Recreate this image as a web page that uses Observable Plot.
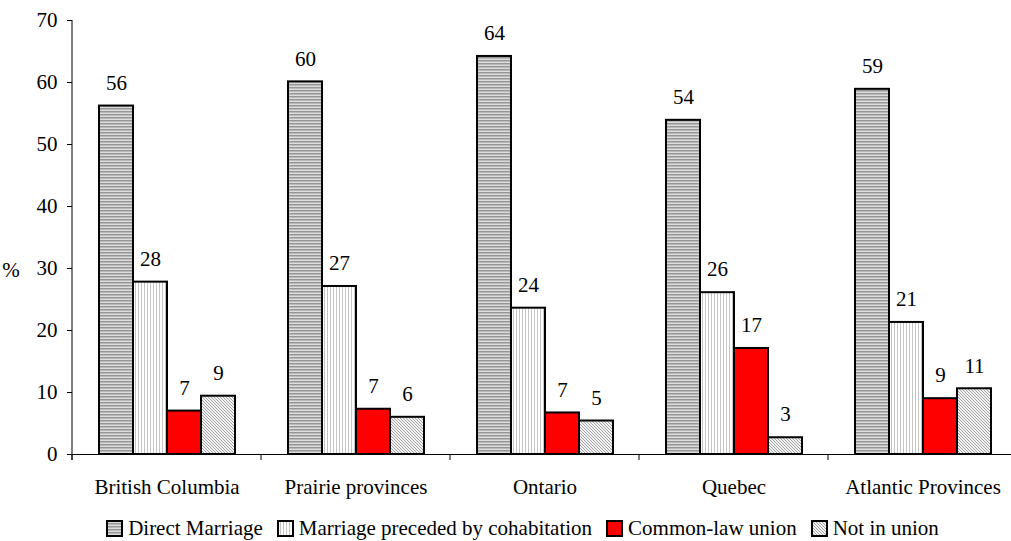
<!DOCTYPE html>
<html>
<head>
<meta charset="utf-8">
<script src="https://cdn.jsdelivr.net/npm/d3@7"></script>
<script src="https://cdn.jsdelivr.net/npm/@observablehq/plot@0.6"></script>
</head>
<body style="margin:0;background:#fff;font-family:'Liberation Serif', serif">
<div id="chart"></div>
<div id="legend" style="width:1011px;box-sizing:border-box;padding-left:34px;display:flex;justify-content:center;align-items:center;font-size:21px;margin-top:11px;color:#000;font-family:'Liberation Serif', serif"></div>
<script>
const regions = ["British Columbia", "Prairie provinces", "Ontario", "Quebec", "Atlantic Provinces"];
const series = ["Direct Marriage", "Marriage preceded by cohabitation", "Common-law union", "Not in union"];
const directMarriage = [56.2, 60.1, 64.2, 53.9, 58.9];
const cohabitation = [27.8, 27.1, 23.6, 26.1, 21.3];
const commonLaw = [7.0, 7.3, 6.7, 17.1, 9.0];
const notInUnion = [9.4, 6.0, 5.4, 2.7, 10.6];
const labelsDirect = ["56", "60", "64", "54", "59"];
const labelsCohab = ["28", "27", "24", "26", "21"];
const labelsCommon = ["7", "7", "7", "17", "9"];
const labelsNot = ["9", "6", "5", "3", "11"];
const yTicks = [0, 10, 20, 30, 40, 50, 60, 70];

const valueArrays = [directMarriage, cohabitation, commonLaw, notInUnion];
const labelArrays = [labelsDirect, labelsCohab, labelsCommon, labelsNot];
const fills = ["url(#p-dm)", "url(#p-co)", "#ff0000", "url(#p-nu)"];
const serifFont = "'Liberation Serif', serif";

const data = [];
regions.forEach((r, i) => {
  series.forEach((s, j) => {
    data.push({region: r, series: s, value: valueArrays[j][i], label: labelArrays[j][i]});
  });
});

const plot = Plot.plot({
  width: 1011,
  height: 505,
  marginTop: 20,
  marginBottom: 51,
  marginLeft: 72,
  marginRight: -6,
  style: {fontSize: "21px", color: "#000", background: "#fff"},
  fx: {domain: regions, padding: 0, label: null},
  x: {domain: series, paddingInner: 0, paddingOuter: 0.74, axis: null},
  y: {domain: [0, 70], ticks: yTicks, label: null},
  color: {type: "ordinal", domain: series, range: fills},
  marks: [
    Plot.barY(data, {fx: "region", x: "series", y: "value", fill: "series", stroke: "#000", strokeWidth: 2}),
    Plot.text(data, {fx: "region", x: "series", y: "value", text: "label", dy: -23, fontSize: 21, fill: "#000"}),
    Plot.ruleY([0], {stroke: "#000", strokeWidth: 1}),
    Plot.axisY({ticks: yTicks, tickSize: 5, tickPadding: 10, fontSize: 21, label: null}),
    Plot.axisFx({anchor: "bottom", tickSize: 0, tickPadding: 25, fontSize: 21, label: null})
  ]
});

document.getElementById("chart").appendChild(plot);

const svg = d3.select(plot);
const defs = svg.insert("defs", ":first-child");
// Direct marriage: horizontal gray stripes
const p1 = defs.append("pattern").attr("id", "p-dm").attr("patternUnits", "userSpaceOnUse").attr("width", 4).attr("height", 3);
p1.append("rect").attr("width", 4).attr("height", 3).attr("fill", "#dcdcdc");
p1.append("rect").attr("width", 4).attr("height", 1.5).attr("fill", "#969696");
// Cohabitation: white with vertical light-gray lines
const p2 = defs.append("pattern").attr("id", "p-co").attr("patternUnits", "userSpaceOnUse").attr("width", 3).attr("height", 4);
p2.append("rect").attr("width", 3).attr("height", 4).attr("fill", "#ffffff");
p2.append("rect").attr("width", 1).attr("height", 4).attr("fill", "#c4c4c4");
// Not in union: fine diagonal hatch
const p3 = defs.append("pattern").attr("id", "p-nu").attr("patternUnits", "userSpaceOnUse").attr("width", 3).attr("height", 3);
p3.append("rect").attr("width", 3).attr("height", 3).attr("fill", "#f2f2f2");
p3.append("path").attr("d", "M0,0L3,3M-1,2L1,4M2,-1L4,1").attr("stroke", "#9c9c9c").attr("stroke-width", 0.9);

// Axis lines and category boundary ticks from the library's scales
const ys = plot.scale("y");
const fxs = plot.scale("fx");
const y0 = ys.apply(0), y70 = ys.apply(70);
const g = svg.append("g").attr("stroke", "#000").attr("stroke-width", 1);
const left = fxs.apply(regions[0]);
g.append("line").attr("x1", left).attr("x2", left).attr("y1", y70).attr("y2", y0 + 6);
regions.forEach(r => {
  const x = fxs.apply(r);
  g.append("line").attr("x1", x).attr("x2", x).attr("y1", y0).attr("y2", y0 + 6);
});
svg.append("text").attr("x", 11).attr("y", ys.apply(29.7)).attr("dy", "0.32em")
  .attr("font-size", 21).attr("fill", "#000").text("%");

svg.attr("font-family", serifFont).style("font-family", serifFont);
svg.selectAll("text").attr("font-family", serifFont).style("font-family", serifFont);

// Legend
const legend = d3.select("#legend");
series.forEach((s, j) => {
  const item = legend.append("div").style("display", "flex").style("align-items", "center").style("margin", "0 7px");
  const sw = item.append("svg").attr("width", 17).attr("height", 17).style("margin-right", "5px");
  sw.append("rect").attr("x", 1).attr("y", 1).attr("width", 15).attr("height", 15)
    .attr("fill", fills[j]).attr("stroke", "#000").attr("stroke-width", 2);
  item.append("span").style("font-family", serifFont).style("font-size", "21px").text(s);
});
</script>
</body>
</html>
